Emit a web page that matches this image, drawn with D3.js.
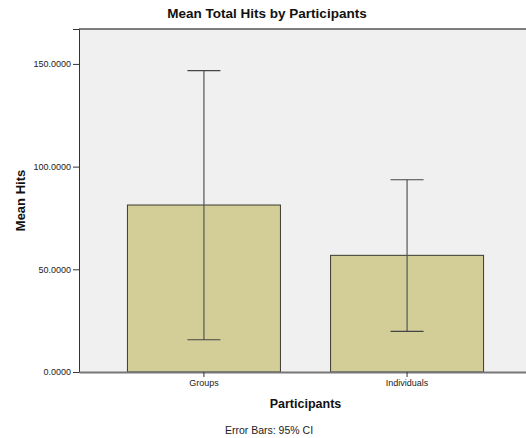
<!DOCTYPE html>
<html><head><meta charset="utf-8">
<script src="https://cdn.jsdelivr.net/npm/d3@7"></script>
<style>body{margin:0;background:#fff}svg{display:block;font-family:"Liberation Sans",Arial,sans-serif}</style>
</head><body><svg id="c" width="526" height="438"></svg>
<script>
const categories = ["Groups", "Individuals"];
const means = [81.3, 56.8];
const ciLow = [15.7, 19.8];
const ciHigh = [146.7, 93.6];
const yTicks = [0, 50, 100, 150];

const svg = d3.select("#c");
const L = 79, R = 532, T = 29, B = 372;
const x = d3.scaleBand().domain(categories).range([L, R]).paddingInner(0.25).paddingOuter(0.24);
const y = d3.scaleLinear().domain([0, 167]).range([B, T]);

svg.append("rect").attr("x", L).attr("y", T).attr("width", R - L).attr("height", B - T).attr("fill", "#f0f0f0");

const bw = 153;
const g = svg.append("g");
categories.forEach((c, i) => {
  const cx = x(c) + x.bandwidth() / 2;
  g.append("rect").attr("x", cx - bw / 2).attr("y", y(means[i])).attr("width", bw).attr("height", B - y(means[i]))
    .attr("fill", "#d3ce97").attr("stroke", "#3a3a30").attr("stroke-width", 1);
  g.append("line").attr("x1", cx).attr("x2", cx).attr("y1", y(ciLow[i])).attr("y2", y(ciHigh[i])).attr("stroke", "#555").attr("stroke-width", 1.2);
  [ciLow[i], ciHigh[i]].forEach(v => {
    g.append("line").attr("x1", cx - 16.5).attr("x2", cx + 16.5).attr("y1", y(v)).attr("y2", y(v)).attr("stroke", "#444").attr("stroke-width", 1.2);
  });
});

// frame
svg.append("line").attr("x1", L).attr("x2", R).attr("y1", T).attr("y2", T).attr("stroke", "#555").attr("stroke-width", 1.5);

const yAxis = svg.append("g").attr("transform", `translate(${L},0)`)
  .call(d3.axisLeft(y).tickValues(yTicks).tickFormat(d3.format(".4f")).tickSize(6).tickPadding(2));
yAxis.select(".domain").attr("stroke", "#333");
yAxis.selectAll(".tick line").attr("stroke", "#333");
yAxis.selectAll("text").attr("font-size", 9).attr("fill", "#222").attr("font-family", "Liberation Sans, Arial, sans-serif");

const xAxis = svg.append("g").attr("transform", `translate(0,${B})`)
  .call(d3.axisBottom(x).tickSize(5).tickSizeOuter(0).tickPadding(3));
xAxis.select(".domain").attr("stroke", "#777").attr("stroke-width", 2);
xAxis.selectAll(".tick line").attr("stroke", "#333");
xAxis.selectAll("text").attr("font-size", 9).attr("fill", "#222").attr("font-family", "Liberation Sans, Arial, sans-serif");

svg.append("text").attr("x", 267).attr("y", 18).attr("text-anchor", "middle").attr("font-size", 13.5).attr("font-weight", "bold").attr("fill", "#111").text("Mean Total Hits by Participants");
svg.append("text").attr("transform", `translate(25,${(T + B) / 2}) rotate(-90)`).attr("text-anchor", "middle").attr("font-size", 13).attr("font-weight", "bold").attr("fill", "#111").text("Mean Hits");
svg.append("text").attr("x", (L + R) / 2).attr("y", 408).attr("text-anchor", "middle").attr("font-size", 12.5).attr("font-weight", "bold").attr("fill", "#111").text("Participants");
svg.append("text").attr("x", 269).attr("y", 434).attr("text-anchor", "middle").attr("font-size", 10.5).attr("fill", "#222").text("Error Bars: 95% CI");
</script></body></html>
